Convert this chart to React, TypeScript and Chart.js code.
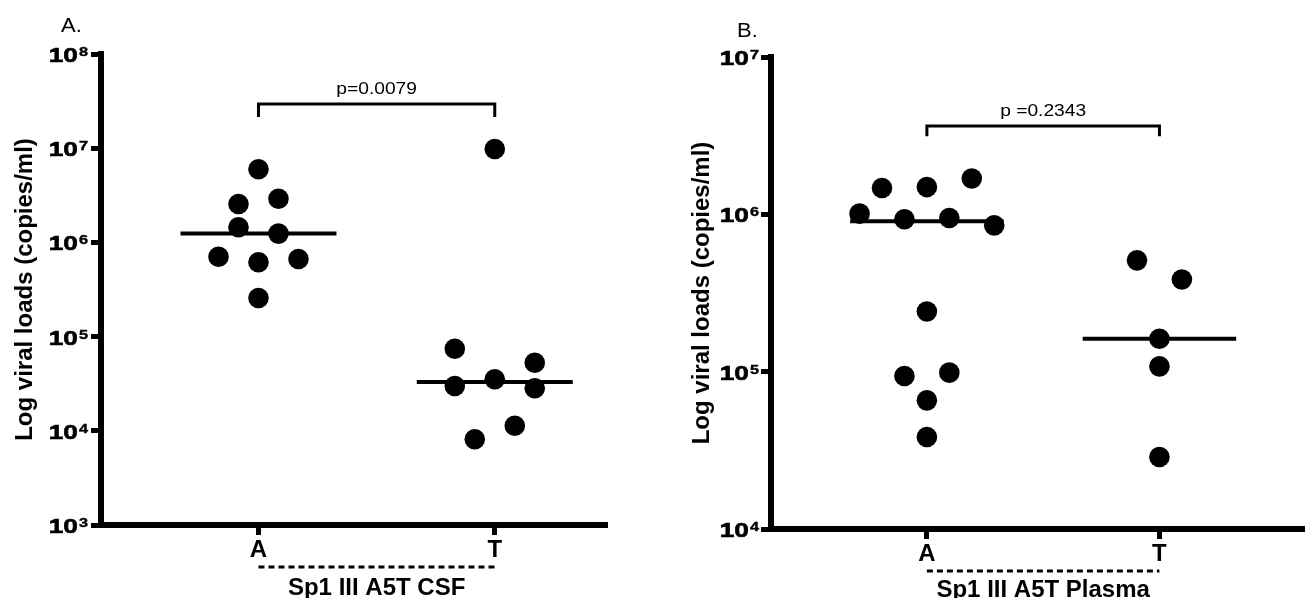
import React, { useEffect, useRef } from "react";
import { Chart, registerables } from "chart.js";

Chart.register(...registerables);

const FONT = '"Liberation Sans", Arial, Helvetica, sans-serif';

const CATEGORIES = ["A", "T"];

// Panel A — Sp1 III A5T CSF
const CSF_LETTER = "A.";
const CSF_GROUP_TITLE = "Sp1 III A5T CSF";
const CSF_P_LABEL = "p=0.0079";
const CSF_Y_TICKS = [1e3, 1e4, 1e5, 1e6, 1e7, 1e8];
const CSF_A_VALUES = [5.97e6, 2.56e6, 2.91e6, 1.45e6, 1.24e6, 7.05e5, 6.15e5, 6.66e5, 2.57e5];
const CSF_A_SLOTS = [0, -1, 1, -1, 1, -2, 0, 2, 0];
const CSF_T_VALUES = [9.8e6, 7.44e4, 2.99e4, 3.52e4, 5.28e4, 2.83e4, 1.13e4, 8.13e3];
const CSF_T_SLOTS = [0, -2, -2, 0, 2, 2, 1, -1];
const CSF_MEDIANS = [1.24e6, 3.3e4];
const CSF_BRACKET = [2.14e7, 2.94e7]; // [leg end, bar level]

// Panel B — Sp1 III A5T Plasma
const PLASMA_LETTER = "B.";
const PLASMA_GROUP_TITLE = "Sp1 III A5T Plasma";
const PLASMA_P_LABEL = "p =0.2343";
const PLASMA_Y_TICKS = [1e4, 1e5, 1e6, 1e7];
const PLASMA_A_VALUES = [1.47e6, 1.49e6, 1.69e6, 1.01e6, 9.3e5, 9.47e5, 8.51e5, 2.41e5, 9.38e4, 9.86e4, 6.57e4, 3.84e4];
const PLASMA_A_SLOTS = [-2, 0, 2, -3, -1, 1, 3, 0, -1, 1, 0, 0];
const PLASMA_T_VALUES = [5.1e5, 3.85e5, 1.62e5, 1.08e5, 2.87e4];
const PLASMA_T_SLOTS = [-1, 1, 0, 0, 0];
const PLASMA_MEDIANS = [9.03e5, 1.62e5];
const PLASMA_BRACKET = [3.13e6, 3.64e6];

const Y_TITLE = "Log viral loads (copies/ml)";
const MEDIAN_HALF_WIDTH = 0.33;

function drawText(ctx: any, text: string, x: number, y: number, font: string, align: string, sx: number, stroke = 0) {
  ctx.save();
  ctx.font = font;
  ctx.translate(x, y);
  ctx.scale(sx, 1);
  ctx.textAlign = align;
  ctx.textBaseline = "alphabetic";
  ctx.fillText(text, 0, 0);
  if (stroke > 0) {
    ctx.lineWidth = stroke;
    ctx.strokeText(text, 0, 0);
  }
  const w = ctx.measureText(text).width * sx;
  ctx.restore();
  return w;
}

const panelDecor = {
  id: "panelDecor",
  afterDraw(chart: any, _args: any, o: any) {
    const { ctx, chartArea, scales } = chart;
    const xs = scales.x;
    const ys = scales.y;
    ctx.save();
    ctx.fillStyle = "#000";
    ctx.strokeStyle = "#000";

    // y tick labels 10^n
    const right = chartArea.left - o.tickGap;
    for (const t of ys.ticks) {
      const py = ys.getPixelForValue(t.value);
      const exp = String(Math.round(Math.log10(t.value)));
      const ew = drawText(ctx, exp, right, py + 2, `bold 13px ${FONT}`, "right", o.tickSx, 0.4);
      drawText(ctx, "10", right - ew - 1, py + 8, `bold 21px ${FONT}`, "right", o.tickSx, 0.6);
    }

    // y title
    ctx.save();
    ctx.translate(o.titleX, (chartArea.top + chartArea.bottom) / 2);
    ctx.rotate(-Math.PI / 2);
    ctx.font = `bold 24px ${FONT}`;
    ctx.textAlign = "center";
    ctx.textBaseline = "middle";
    ctx.fillText(o.yTitle, 0, 0);
    ctx.restore();

    // panel letter
    drawText(ctx, o.letter, o.letterX, o.letterY, `20px ${FONT}`, "left", 1.1);

    const pa = xs.getPixelForValue(1);
    const pt = xs.getPixelForValue(2);
    const mid = (pa + pt) / 2;

    // p-value above bracket
    const by = ys.getPixelForValue(o.bracketTop);
    drawText(ctx, o.pLabel, mid, by - 10, `16px ${FONT}`, "center", 1.2);

    // dashed group line
    ctx.save();
    ctx.lineWidth = 3;
    ctx.setLineDash([6, 4]);
    ctx.beginPath();
    ctx.moveTo(pa, o.dashY);
    ctx.lineTo(pt, o.dashY);
    ctx.stroke();
    ctx.restore();

    // group title
    drawText(ctx, o.groupTitle, mid, o.groupY, `bold 24px ${FONT}`, "center", 1.0);
    ctx.restore();
  },
};

type PanelProps = {
  left: number;
  width: number;
  aValues: number[];
  aSlots: number[];
  tValues: number[];
  tSlots: number[];
  medians: number[];
  bracket: number[];
  yTicks: number[];
  jitter: number;
  xMin: number;
  xMax: number;
  yWidth: number;
  xHeight: number;
  padTop: number;
  padRight: number;
  decor: any;
};

function Panel(p: PanelProps) {
  const ref = useRef<HTMLCanvasElement>(null);
  useEffect(() => {
    if (!ref.current) return;
    const dot = {
      type: "scatter",
      pointRadius: 10.3,
      pointHoverRadius: 10.3,
      backgroundColor: "#000",
      borderWidth: 0,
      showLine: false,
    };
    const datasets: any[] = [
      { ...dot, data: p.aValues.map((v, i) => ({ x: 1 + p.aSlots[i] * p.jitter, y: v })) },
      { ...dot, data: p.tValues.map((v, i) => ({ x: 2 + p.tSlots[i] * p.jitter, y: v })) },
      ...p.medians.map((m, i) => ({
        type: "scatter",
        showLine: true,
        data: [
          { x: i + 1 - MEDIAN_HALF_WIDTH, y: m },
          { x: i + 1 + MEDIAN_HALF_WIDTH, y: m },
        ],
        borderColor: "#000",
        borderWidth: 4,
        pointRadius: 0,
      })),
      {
        type: "scatter",
        showLine: true,
        data: [
          { x: 1, y: p.bracket[0] },
          { x: 1, y: p.bracket[1] },
          { x: 2, y: p.bracket[1] },
          { x: 2, y: p.bracket[0] },
        ],
        borderColor: "#000",
        borderWidth: 3,
        pointRadius: 0,
      },
    ];
    const gridCfg = {
      drawOnChartArea: false,
      drawTicks: true,
      tickLength: 10,
      tickWidth: 5,
      tickColor: "#000",
      color: "#000",
    };
    const chart = new Chart(ref.current, {
      type: "scatter",
      data: { datasets },
      options: {
        responsive: false,
        animation: false,
        events: [],
        layout: { padding: { left: 0, top: p.padTop, right: p.padRight, bottom: 0 } },
        plugins: {
          legend: { display: false },
          tooltip: { enabled: false },
          panelDecor: p.decor,
        } as any,
        scales: {
          x: {
            type: "linear",
            min: p.xMin,
            max: p.xMax,
            afterBuildTicks: (s: any) => {
              s.ticks = CATEGORIES.map((_, i) => ({ value: i + 1 }));
            },
            afterFit: (s: any) => {
              s.height = p.xHeight;
            },
            grid: gridCfg,
            border: { display: true, width: 6, color: "#000" },
            ticks: {
              callback: (v: any) => CATEGORIES[Math.round(v) - 1] ?? "",
              font: { family: FONT, size: 24, weight: "bold" },
              color: "#000",
              padding: 1,
              maxRotation: 0,
              autoSkip: false,
            },
          },
          y: {
            type: "logarithmic",
            min: p.yTicks[0],
            max: p.yTicks[p.yTicks.length - 1],
            afterBuildTicks: (s: any) => {
              s.ticks = p.yTicks.map((v) => ({ value: v }));
            },
            afterFit: (s: any) => {
              s.width = p.yWidth;
            },
            grid: gridCfg,
            border: { display: true, width: 6, color: "#000" },
            ticks: { display: false },
          },
        },
      } as any,
      plugins: [panelDecor as any],
    });
    return () => chart.destroy();
  }, []);
  return (
    <canvas
      ref={ref}
      width={p.width}
      height={598}
      style={{ position: "absolute", left: p.left, top: 0, width: p.width, height: 598, display: "block" }}
    />
  );
}

export default function App() {
  return (
    <div style={{ position: "absolute", left: 0, top: 0, width: 1315, height: 598, background: "#fff", overflow: "hidden" }}>
      <Panel
        left={0}
        width={660}
        aValues={CSF_A_VALUES}
        aSlots={CSF_A_SLOTS}
        tValues={CSF_T_VALUES}
        tSlots={CSF_T_SLOTS}
        medians={CSF_MEDIANS}
        bracket={CSF_BRACKET}
        yTicks={CSF_Y_TICKS}
        jitter={0.0846}
        xMin={0.3335}
        xMax={2.475}
        yWidth={101}
        xHeight={73}
        padTop={54}
        padRight={53}
        decor={{
          tickGap: 13,
          tickSx: 1.25,
          titleX: 25,
          yTitle: Y_TITLE,
          letter: CSF_LETTER,
          letterX: 61,
          letterY: 32,
          pLabel: CSF_P_LABEL,
          bracketTop: CSF_BRACKET[1],
          dashY: 567,
          groupTitle: CSF_GROUP_TITLE,
          groupY: 595,
        }}
      />
      <Panel
        left={660}
        width={655}
        aValues={PLASMA_A_VALUES}
        aSlots={PLASMA_A_SLOTS}
        tValues={PLASMA_T_VALUES}
        tSlots={PLASMA_T_SLOTS}
        medians={PLASMA_MEDIANS}
        bracket={PLASMA_BRACKET}
        yTicks={PLASMA_Y_TICKS}
        jitter={0.0965}
        xMin={0.3297}
        xMax={2.6246}
        yWidth={111}
        xHeight={69}
        padTop={57}
        padRight={2}
        decor={{
          tickGap: 12,
          tickSx: 1.25,
          titleX: 42,
          yTitle: Y_TITLE,
          letter: PLASMA_LETTER,
          letterX: 77,
          letterY: 37,
          pLabel: PLASMA_P_LABEL,
          bracketTop: PLASMA_BRACKET[1],
          dashY: 571,
          groupTitle: PLASMA_GROUP_TITLE,
          groupY: 597,
        }}
      />
    </div>
  );
}
